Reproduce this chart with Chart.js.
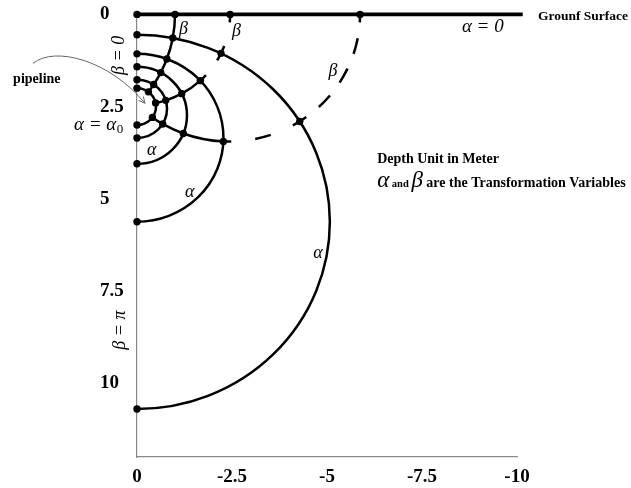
<!DOCTYPE html>
<html>
<head>
<meta charset="utf-8">
<script src="https://cdn.jsdelivr.net/npm/chart.js@4/dist/chart.umd.min.js"></script>
<style>
  html, body { margin: 0; padding: 0; background: #fff; }
</style>
</head>
<body>
<canvas id="c" width="631" height="488"></canvas>
<script>
// Axis ticks (m)
const depthTicks = [0, 2.5, 5, 7.5, 10];
const offsetTicks = [0, -2.5, -5, -7.5, -10];

// α circles: depth where each one meets the vertical axis, top and bottom (m)
const alphaTop = [0.55, 1.07, 1.42, 1.77, 2.0];
const alphaBottom = [10.7, 5.62, 4.05, 3.35, 3.0];

// β arcs: where each one leaves the ground surface (m)
const betaGround = [-1.0, -2.45, -5.87];

// depth of the focus all β arcs run into (m)
const focusDepth = 2.45;

// far end of the ground surface line (m)
const groundEnd = -10.15;

const SERIF = '"Liberation Serif", "Times New Roman", serif';
// β arcs are dashed until they reach this α circle (index), solid inside it
const betaSolidFrom = [0, 2, 2];

// ---- geometry in (u, d): u = horizontal distance from the axis (x = -u), d = depth
const alphaCircles = alphaTop.map((t, i) => ({ c: (t + alphaBottom[i]) / 2, r: (alphaBottom[i] - t) / 2 }));
const betaCircles = betaGround.map(g => {
  const u = -g;
  const uc = (u * u - focusDepth * focusDepth) / (2 * u);
  return { g, uc, R: Math.hypot(uc, focusDepth) };
});

function circleHits(x0, y0, r0, x1, y1, r1) {
  const dx = x1 - x0, dy = y1 - y0, d = Math.hypot(dx, dy);
  const a = (r0 * r0 - r1 * r1 + d * d) / (2 * d);
  const h = Math.sqrt(Math.max(0, r0 * r0 - a * a));
  const mx = x0 + a * dx / d, my = y0 + a * dy / d;
  return [[mx + h * dy / d, my - h * dx / d], [mx - h * dy / d, my + h * dx / d]];
}
// crossing of a β arc with an α circle, on the side drawn (u > 0)
function meet(b, a) {
  const hits = circleHits(b.uc, 0, b.R, 0, a.c, a.r);
  return hits[0][0] > hits[1][0] ? hits[0] : hits[1];
}

// node markers
const dots = [{ x: 0, y: 0 }];
betaGround.forEach(g => dots.push({ x: g, y: 0 }));
alphaTop.forEach((t, i) => { dots.push({ x: 0, y: t }); dots.push({ x: 0, y: alphaBottom[i] }); });
betaCircles.forEach(b => alphaCircles.forEach(a => {
  const p = meet(b, a);
  dots.push({ x: -p[0], y: p[1] });
}));

// annotation texts (positions in axis units)
const notes = [
  { text: 'Grounf Surface', x: -10.55, y: 0.16, font: 'bold 13.5px ' + SERIF, align: 'left', base: 'alphabetic' },
  { text: 'α = 0', x: -8.55, y: 0.49, font: 'italic 19px ' + SERIF, align: 'left', base: 'alphabetic' },
  { text: 'β', x: -1.22, y: 0.40, font: 'italic 18px ' + SERIF, align: 'center', base: 'middle' },
  { text: 'β', x: -2.62, y: 0.46, font: 'italic 18px ' + SERIF, align: 'center', base: 'middle' },
  { text: 'β', x: -5.16, y: 1.54, font: 'italic 18px ' + SERIF, align: 'center', base: 'middle' },
  { text: 'α', x: -0.39, y: 3.69, font: 'italic 18px ' + SERIF, align: 'center', base: 'middle' },
  { text: 'α', x: -1.39, y: 4.82, font: 'italic 18px ' + SERIF, align: 'center', base: 'middle' },
  { text: 'α', x: -4.76, y: 6.48, font: 'italic 18px ' + SERIF, align: 'center', base: 'middle' },
  { text: 'pipeline', x: 3.26, y: 1.87, font: 'bold 14px ' + SERIF, align: 'left', base: 'alphabetic' },
  { text: 'Depth Unit in Meter', x: -6.32, y: 4.04, font: 'bold 14px ' + SERIF, align: 'left', base: 'alphabetic' }
];

// length in pixels of an ellipse arc between two angles
function arcLength(rx, ry, t0, t1) {
  let len = 0, px0 = rx * Math.cos(t0), py0 = ry * Math.sin(t0);
  const n = 60;
  for (let i = 1; i <= n; i++) {
    const t = t0 + (t1 - t0) * i / n;
    const px1 = rx * Math.cos(t), py1 = ry * Math.sin(t);
    len += Math.hypot(px1 - px0, py1 - py0);
    px0 = px1; py0 = py1;
  }
  return len;
}

const bipolarGrid = {
  id: 'bipolarGrid',
  beforeDatasetsDraw(chart) {
    const ctx = chart.ctx;
    const X = v => chart.scales.x.getPixelForValue(v);
    const Y = v => chart.scales.y.getPixelForValue(v);
    ctx.save();
    ctx.strokeStyle = '#000';
    // ground surface
    ctx.lineWidth = 3.6;
    ctx.beginPath(); ctx.moveTo(X(0), Y(0)); ctx.lineTo(X(groundEnd), Y(0)); ctx.stroke();
    // α circles (right half)
    ctx.lineWidth = 2.5;
    alphaCircles.forEach(a => {
      const cx = X(0), cy = Y(a.c), rx = X(-a.r) - cx, ry = Y(a.c + a.r) - cy;
      ctx.beginPath(); ctx.ellipse(cx, cy, rx, ry, 0, -Math.PI / 2, Math.PI / 2); ctx.stroke();
    });
    // β arcs: dashed (with a dash centred on every crossing) outside, solid inside
    betaCircles.forEach((b, bi) => {
      const cx = X(-b.uc), cy = Y(0), rx = X(-b.uc - b.R) - cx, ry = Y(b.R) - cy;
      const ang = p => { let t = Math.atan2((Y(p[1]) - cy) / ry, (X(-p[0]) - cx) / rx); if (t < 0) t += 2 * Math.PI; return t; };
      const stops = [0];
      alphaCircles.forEach(a => stops.push(ang(meet(b, a))));
      const solidFrom = betaSolidFrom[bi];
      for (let k = 0; k < stops.length - 1; k++) {
        const t0 = stops[k], t1 = stops[k + 1];
        if (k < solidFrom) {
          const L = arcLength(rx, ry, t0, t1);
          const n = Math.max(1, Math.floor(L / 30));
          const p = L / n, d = Math.min(16, p * 0.5);
          ctx.setLineDash([d, p - d]);
          ctx.lineDashOffset = d / 2;
        } else {
          ctx.setLineDash([]);
          ctx.lineDashOffset = 0;
        }
        ctx.beginPath(); ctx.ellipse(cx, cy, rx, ry, 0, t0, t1); ctx.stroke();
      }
    });
    ctx.restore();
  },
  afterDatasetsDraw(chart) {
    const ctx = chart.ctx;
    const X = v => chart.scales.x.getPixelForValue(v);
    const Y = v => chart.scales.y.getPixelForValue(v);
    ctx.save();
    ctx.fillStyle = '#000';
    notes.forEach(n => {
      ctx.font = n.font; ctx.textAlign = n.align; ctx.textBaseline = n.base;
      ctx.fillText(n.text, X(n.x), Y(n.y));
    });

    // α = α0 next to the pipeline
    ctx.textAlign = 'left'; ctx.textBaseline = 'alphabetic';
    ctx.font = 'italic 19px ' + SERIF;
    const x0 = X(1.66), y0 = Y(3.14);
    ctx.fillText('α = α', x0, y0);
    const w0 = ctx.measureText('α = α').width;
    ctx.font = '13px ' + SERIF;
    ctx.fillText('0', x0 + w0 + 0.5, y0 + 3);

    // β = 0 and β = π along the axis
    [['β = 0', 0.47, 1.11], ['β = π', 0.45, 8.56]].forEach(([t, x, y]) => {
      ctx.save();
      ctx.translate(X(x), Y(y)); ctx.rotate(-Math.PI / 2);
      ctx.font = 'italic 18px ' + SERIF; ctx.textAlign = 'center'; ctx.textBaseline = 'middle';
      ctx.fillText(t, 0, 0);
      ctx.restore();
    });

    // mixed-style legend line
    let lx = X(-6.32); const ly = Y(4.69);
    [['α', 'italic 23px '], [' and ', 'bold 10.5px '], ['β', 'italic 23px '], [' are the Transformation Variables', 'bold 14px ']]
      .forEach(([t, f]) => {
        ctx.font = f + SERIF; ctx.textAlign = 'left'; ctx.textBaseline = 'alphabetic';
        ctx.fillText(t, lx, ly);
        lx += ctx.measureText(t).width;
      });

    // pointer to the pipeline
    const s = [X(2.74), Y(1.33)], c1 = [X(2.16), Y(0.84)], c2 = [X(0.71), Y(1.25)], e = [X(-0.21), Y(2.41)];
    ctx.strokeStyle = '#666'; ctx.lineWidth = 1;
    ctx.beginPath(); ctx.moveTo(s[0], s[1]); ctx.bezierCurveTo(c1[0], c1[1], c2[0], c2[1], e[0], e[1]); ctx.stroke();
    const dir = Math.atan2(e[1] - c2[1], e[0] - c2[0]);
    ctx.beginPath();
    ctx.moveTo(e[0] - 7 * Math.cos(dir - 0.45), e[1] - 7 * Math.sin(dir - 0.45));
    ctx.lineTo(e[0], e[1]);
    ctx.lineTo(e[0] - 7 * Math.cos(dir + 0.45), e[1] - 7 * Math.sin(dir + 0.45));
    ctx.stroke();
    ctx.restore();
  }
};

new Chart(document.getElementById('c'), {
  type: 'scatter',
  data: {
    datasets: [{
      data: dots,
      pointRadius: 3.7,
      pointHoverRadius: 3.7,
      pointBackgroundColor: '#000',
      pointBorderWidth: 0,
      clip: false
    }]
  },
  options: {
    responsive: false,
    animation: false,
    devicePixelRatio: 1,
    events: [],
    layout: { padding: { left: 100, right: 114, top: 14, bottom: 0 } },
    plugins: { legend: { display: false }, tooltip: { enabled: false } },
    scales: {
      x: {
        type: 'linear', min: -10, max: 0, reverse: true,
        afterBuildTicks: s => { s.ticks = offsetTicks.map(v => ({ value: v })); },
        afterFit: s => { s.height = 31; },
        grid: { display: false, drawTicks: false },
        border: { display: true, color: '#888', width: 1.2 },
        ticks: { padding: 9, color: '#000', autoSkip: false, maxRotation: 0,
                 font: { family: SERIF, size: 19, weight: 'bold' }, callback: v => String(v) }
      },
      y: {
        type: 'linear', min: 0, max: 12, reverse: true,
        afterBuildTicks: s => { s.ticks = depthTicks.map(v => ({ value: v })); },
        afterFit: s => { s.width = 37; },
        grid: { display: false, drawTicks: false },
        border: { display: true, color: '#888', width: 1.2 },
        ticks: { crossAlign: 'far', color: '#000', autoSkip: false,
                 font: { family: SERIF, size: 19, weight: 'bold' }, callback: v => String(v) }
      }
    }
  },
  plugins: [bipolarGrid]
});
</script>
</body>
</html>
